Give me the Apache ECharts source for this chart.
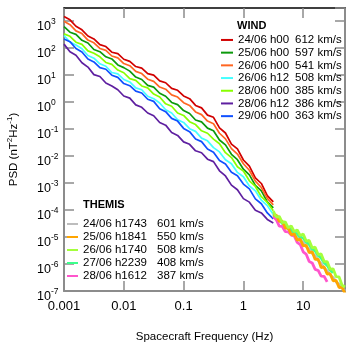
<!DOCTYPE html>
<html>
<head>
<meta charset="utf-8">
<script src="https://cdn.jsdelivr.net/npm/echarts@6/dist/echarts.min.js"></script>
<style>
  html, body { margin: 0; padding: 0; background: #fff; }
  #chart { width: 354px; height: 346px; }
</style>
</head>
<body>
<div id="chart"></div>
<script>
// frequencies are log10(Hz), PSD values are log10(nT^2/Hz)
const windLogF = [-3.0, -2.9, -2.8, -2.7, -2.6, -2.5, -2.4, -2.3, -2.2, -2.1, -2.0, -1.9, -1.8, -1.7, -1.6, -1.5, -1.4, -1.3, -1.2, -1.1,
  -1.0, -0.9, -0.8, -0.7, -0.6, -0.5, -0.4, -0.3, -0.2, -0.1, 0.0, 0.1, 0.2, 0.3, 0.4, 0.5]
const themisLogF = [0.50, 0.55, 0.60, 0.65, 0.70, 0.75, 0.80, 0.85, 0.90, 0.95, 1.00, 1.05, 1.10, 1.15, 1.20, 1.25, 1.30,
  1.35, 1.40, 1.45, 1.50, 1.55, 1.60, 1.65, 1.70]

const windDates = ['24/06 h00', '25/06 h00', '26/06 h00', '26/06 h12', '28/06 h00', '28/06 h12', '29/06 h00']
const windSpeeds = ['612 km/s', '597 km/s', '541 km/s', '508 km/s', '385 km/s', '386 km/s', '363 km/s']
const windColors = ['#d10000', '#0c9a0c', '#ff6622', '#44ffff', '#88ff00', '#5e1fa0', '#1050ff']

const wind24h00 = [3.16, 3.04, 2.80, 2.67, 2.44, 2.33, 2.12, 2.05, 1.84, 1.79, 1.58, 1.50, 1.31, 1.25, 1.05, 0.99, 0.78, 0.71, 0.50, 0.43,
  0.22, 0.12, -0.13, -0.22, -0.49, -0.57, -0.96, -1.15, -1.56, -1.74, -2.15, -2.38, -2.81, -3.02, -3.47, -3.70]
const wind25h00 = [2.79, 2.58, 2.50, 2.28, 2.18, 1.94, 1.86, 1.67, 1.59, 1.37, 1.27, 1.14, 0.92, 0.83, 0.61, 0.55, 0.32, 0.21, -0.02, -0.10,
  -0.32, -0.43, -0.67, -0.74, -0.97, -1.07, -1.41, -1.59, -1.94, -2.14, -2.49, -2.70, -3.09, -3.29, -3.70, -3.92]
const wind26h00 = [2.99, 2.86, 2.63, 2.53, 2.29, 2.19, 1.98, 1.91, 1.70, 1.63, 1.42, 1.34, 1.13, 1.05, 0.84, 0.76, 0.55, 0.47, 0.26, 0.18,
  -0.03, -0.13, -0.37, -0.47, -0.71, -0.81, -1.16, -1.37, -1.73, -1.93, -2.29, -2.53, -2.93, -3.17, -3.57, -3.81]
const wind26h12 = [2.46, 2.22, 2.11, 1.97, 1.72, 1.62, 1.41, 1.32, 1.09, 1.04, 0.83, 0.74, 0.52, 0.45, 0.21, 0.12, -0.04, -0.29, -0.41, -0.66,
  -0.76, -0.99, -1.09, -1.34, -1.44, -1.69, -1.85, -2.14, -2.29, -2.61, -2.77, -3.11, -3.29, -3.64, -3.84, -4.17]
const wind28h00 = [2.52, 2.43, 2.21, 2.13, 1.89, 1.80, 1.67, 1.46, 1.39, 1.18, 1.08, 0.86, 0.80, 0.59, 0.52, 0.29, 0.18, -0.07, -0.16, -0.41,
  -0.50, -0.73, -0.84, -1.07, -1.16, -1.38, -1.55, -1.88, -2.06, -2.40, -2.56, -2.92, -3.13, -3.51, -3.72, -4.03]
const wind28h12 = [2.14, 1.86, 1.73, 1.45, 1.29, 1.01, 0.94, 0.70, 0.59, 0.45, 0.22, 0.14, -0.11, -0.20, -0.41, -0.51, -0.76, -0.86, -1.13, -1.24,
  -1.48, -1.57, -1.81, -1.88, -2.12, -2.21, -2.55, -2.74, -3.08, -3.25, -3.58, -3.71, -4.01, -4.11, -4.35, -4.48]
const wind29h00 = [2.33, 2.23, 1.98, 1.85, 1.59, 1.48, 1.27, 1.21, 0.99, 0.91, 0.68, 0.60, 0.40, 0.33, 0.10, 0.02, -0.25, -0.36, -0.61, -0.71,
  -0.98, -1.10, -1.37, -1.47, -1.74, -1.86, -2.17, -2.30, -2.60, -2.73, -3.04, -3.22, -3.59, -3.77, -4.11, -4.33]
const windValues = [wind24h00, wind25h00, wind26h00, wind26h12, wind28h00, wind28h12, wind29h00]

const themisDates = ['24/06 h1743', '25/06 h1841', '26/06 h1740', '27/06 h2239', '28/06 h1612']
const themisSpeeds = ['601 km/s', '550 km/s', '508 km/s', '408 km/s', '387 km/s']
const themisColors = ['#bdbdbd', '#ffa500', '#a4ff3c', '#3cff8c', '#ff55cc']

const themis24 = [-4.12, -4.24, -4.33, -4.46, -4.55, -4.70, -4.80, -4.93, -5.00, -5.13, -5.20, -5.35, -5.45, -5.60, -5.70, -5.87, -5.98,
  -6.15, -6.25, -6.40, -6.50, -6.66, -6.75, -6.90, -7.00]
const themis25 = [-4.20, -4.19, -4.42, -4.41, -4.67, -4.66, -4.92, -4.88, -5.12, -5.08, -5.33, -5.31, -5.58, -5.55, -5.83, -5.82, -6.13,
  -6.11, -6.37, -6.36, -6.62, -6.61, -6.87, -6.86, -7.10]
const themis26 = [-4.04, -4.27, -4.24, -4.47, -4.44, -4.66, -4.59, -4.80, -4.74, -4.95, -4.89, -5.15, -5.13, -5.40, -5.38, -5.65, -5.63,
  -5.91, -5.91, -6.19, -6.18, -6.47, -6.48, -6.79, -6.85]
const themis27 = [-4.18, -4.30, -4.36, -4.50, -4.56, -4.70, -4.73, -4.85, -4.88, -5.00, -5.04, -5.18, -5.28, -5.44, -5.52, -5.68, -5.78,
  -5.95, -6.05, -6.22, -6.32]
const themis28 = [-4.24, -4.36, -4.60, -4.61, -4.80, -4.81, -4.93, -4.96, -5.20, -5.28, -5.55, -5.64, -5.91, -5.96, -6.20, -6.24, -6.45,
  -6.46, -6.66]
const themisValues = [themis24, themis25, themis26, themis27, themis28]
// drawing order of THEMIS curves (bottom to top)
const themisOrder = [0, 3, 4, 1, 2]

const FONT = '"Liberation Sans", Arial, Helvetica, sans-serif'
const AXIS_GRAY = '#8c8c8c'

const toPairs = (logF, logP) => logP.map((v, i) => [Math.pow(10, logF[i]), Math.pow(10, v)])

const series = []
windDates.forEach((d, i) => {
  series.push({
    name: d,
    type: 'line',
    showSymbol: false,
    symbol: 'none',
    color: windColors[i],
    lineStyle: { width: 1.7, color: windColors[i] },
    data: toPairs(windLogF, windValues[i]),
  })
})
themisOrder.forEach((i) => {
  series.push({
    name: themisDates[i],
    type: 'line',
    showSymbol: false,
    symbol: 'none',
    color: themisColors[i],
    lineStyle: { width: 2.8, color: themisColors[i] },
    data: toPairs(themisLogF, themisValues[i]),
  })
})

const legendText = (dates, speeds) => (name) => {
  const idx = dates.indexOf(name)
  return `{d|${name}}{v|${speeds[idx]}}`
}

const chart = echarts.init(document.getElementById('chart'), null, { renderer: 'canvas' })

const option = {
  animation: false,
  backgroundColor: '#fff',
  textStyle: { fontFamily: FONT, color: '#000' },
  grid: { left: 64, right: 9, top: 8, bottom: 55, outerBoundsMode: 'none' },
  title: [
    { text: 'WIND', left: 237, top: 19.5, padding: 0, textStyle: { fontFamily: FONT, fontSize: 11, fontWeight: 'bold', color: '#000', lineHeight: 13 } },
    { text: 'THEMIS', left: 83, top: 198.5, padding: 0, textStyle: { fontFamily: FONT, fontSize: 11, fontWeight: 'bold', color: '#000', lineHeight: 13 } },
  ],
  legend: [
    {
      data: windDates,
      orient: 'vertical',
      left: 221,
      top: 33.6,
      padding: 0,
      itemGap: 0,
      itemWidth: 12,
      itemHeight: 2,
      icon: 'rect',
      selectedMode: false,
      formatter: legendText(windDates, windSpeeds),
      textStyle: {
        fontFamily: FONT, fontSize: 11.5, color: '#000', lineHeight: 12.7,
        rich: {
          d: { fontFamily: FONT, fontSize: 11.5, width: 57, lineHeight: 12.7 },
          v: { fontFamily: FONT, fontSize: 11.5, lineHeight: 12.7 },
        },
      },
    },
    {
      data: themisDates,
      orient: 'vertical',
      left: 67,
      top: 217.5,
      padding: 0,
      itemGap: 0,
      itemWidth: 11,
      itemHeight: 2,
      icon: 'rect',
      selectedMode: false,
      formatter: legendText(themisDates, themisSpeeds),
      textStyle: {
        fontFamily: FONT, fontSize: 11.5, color: '#000', lineHeight: 13,
        rich: {
          d: { fontFamily: FONT, fontSize: 11.5, width: 74, lineHeight: 13 },
          v: { fontFamily: FONT, fontSize: 11.5, lineHeight: 13 },
        },
      },
    },
  ],
  xAxis: [
    {
      type: 'log',
      logBase: 10,
      min: 0.001,
      max: 50,
      interval: 1,
      position: 'bottom',
      name: 'Spacecraft Frequency (Hz)',
      nameLocation: 'middle',
      nameGap: 40,
      nameTextStyle: { fontFamily: FONT, fontSize: 11.5, color: '#000' },
      axisLine: { lineStyle: { color: AXIS_GRAY, width: 2 } },
      axisTick: { inside: true, length: 10, lineStyle: { color: AXIS_GRAY, width: 1.5 } },
      axisLabel: {
        margin: 9,
        fontFamily: FONT,
        fontSize: 13,
        color: '#000',
        showMaxLabel: false,
        formatter: (v) => String(+v.toPrecision(3)),
      },
      splitLine: { show: false },
      minorTick: { show: false },
    },
    {
      type: 'log',
      logBase: 10,
      min: 0.001,
      max: 50,
      interval: 1,
      position: 'top',
      axisLine: { lineStyle: { color: '#000', width: 1.5 } },
      axisTick: { inside: true, length: 10, lineStyle: { color: AXIS_GRAY, width: 1.5 } },
      axisLabel: { show: false },
      splitLine: { show: false },
    },
  ],
  yAxis: [
    {
      type: 'log',
      logBase: 10,
      min: 1e-7,
      max: 3000,
      interval: 1,
      position: 'left',
      name: '{a|PSD (nT}{s|2}{a|Hz}{s|-1}{a|)}',
      nameLocation: 'middle',
      nameGap: 44,
      nameTextStyle: {
        fontFamily: FONT,
        color: '#000',
        rich: {
          a: { fontFamily: FONT, fontSize: 11.5, color: '#000', verticalAlign: 'bottom' },
          s: { fontFamily: FONT, fontSize: 8, color: '#000', verticalAlign: 'bottom', padding: [0, 0, 6, 0] },
        },
      },
      axisLine: { lineStyle: { color: AXIS_GRAY, width: 2 } },
      axisTick: { inside: true, length: 10, lineStyle: { color: AXIS_GRAY, width: 1.5 } },
      axisLabel: {
        margin: 27,
        align: 'left',
        showMaxLabel: false,
        padding: [8, 0, 0, 0],
        formatter: (v) => `{b|10}{e|${Math.round(Math.log10(v))}}`,
        rich: {
          b: { fontFamily: FONT, fontSize: 12.5, color: '#000', verticalAlign: 'bottom' },
          e: { fontFamily: FONT, fontSize: 8.5, color: '#000', verticalAlign: 'bottom', padding: [0, 0, 7, 0] },
        },
      },
      splitLine: { show: false },
    },
    {
      type: 'log',
      logBase: 10,
      min: 1e-7,
      max: 3000,
      interval: 1,
      position: 'right',
      axisLine: { lineStyle: { color: AXIS_GRAY, width: 2 } },
      axisTick: { inside: true, length: 10, lineStyle: { color: AXIS_GRAY, width: 1.5 } },
      axisLabel: { show: false },
      splitLine: { show: false },
    },
  ],
  series,
}

option && chart.setOption(option)
</script>
</body>
</html>
